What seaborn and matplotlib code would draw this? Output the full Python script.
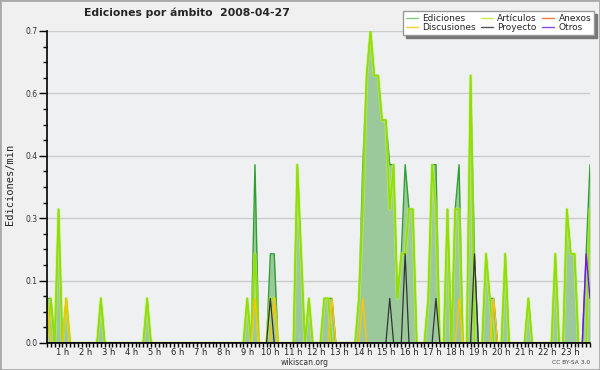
import numpy as np
import matplotlib
matplotlib.use('Agg')
import matplotlib.pyplot as plt
from matplotlib.lines import Line2D
from matplotlib.patches import Rectangle
from matplotlib.ticker import FixedLocator, MultipleLocator, FormatStrFormatter
import seaborn as sns

# franjas de 10 minutos, de las 00:20 a las 23:50
minutos = np.arange(20, 1440, 10)

# ediciones/min por franja
ediciones = [
    0.1, 0.1, 0, 0.3, 0, 0.1, 0, 0, 0, 0, 0, 0,
    0, 0, 0.1, 0, 0, 0, 0, 0, 0, 0, 0, 0,
    0, 0, 0.1, 0, 0, 0, 0, 0, 0, 0, 0, 0,
    0, 0, 0, 0, 0, 0, 0, 0, 0, 0, 0, 0,
    0, 0, 0, 0, 0.1, 0, 0.4, 0, 0, 0, 0.2, 0.2,
    0, 0, 0, 0, 0, 0.4, 0.2, 0, 0.1, 0, 0, 0,
    0.1, 0.1, 0.1, 0, 0, 0, 0, 0, 0, 0.1, 0.4, 0.6,
    0.7, 0.6, 0.6, 0.5, 0.5, 0.4, 0.4, 0.1, 0.2, 0.4, 0.3, 0.3,
    0, 0, 0, 0.1, 0.4, 0.4, 0, 0, 0.3, 0, 0.3, 0.4,
    0, 0, 0.6, 0.2, 0, 0, 0.2, 0.1, 0.1, 0, 0, 0.2,
    0, 0, 0, 0, 0, 0.1, 0, 0, 0, 0, 0, 0,
    0.2, 0, 0, 0.3, 0.2, 0.2, 0, 0, 0.2, 0.4,
]
articulos = [
    0, 0.1, 0, 0.3, 0, 0.1, 0, 0, 0, 0, 0, 0,
    0, 0, 0.1, 0, 0, 0, 0, 0, 0, 0, 0, 0,
    0, 0, 0.1, 0, 0, 0, 0, 0, 0, 0, 0, 0,
    0, 0, 0, 0, 0, 0, 0, 0, 0, 0, 0, 0,
    0, 0, 0, 0, 0.1, 0, 0.2, 0, 0, 0, 0.1, 0.1,
    0, 0, 0, 0, 0, 0.4, 0.2, 0, 0.1, 0, 0, 0,
    0.1, 0.1, 0, 0, 0, 0, 0, 0, 0, 0.1, 0.3, 0.6,
    0.7, 0.6, 0.6, 0.5, 0.5, 0.3, 0.4, 0.1, 0.2, 0.2, 0.3, 0.3,
    0, 0, 0, 0.1, 0.4, 0.3, 0, 0, 0.3, 0, 0.3, 0.3,
    0, 0, 0.6, 0, 0, 0, 0.2, 0.1, 0, 0, 0, 0.2,
    0, 0, 0, 0, 0, 0.1, 0, 0, 0, 0, 0, 0,
    0.2, 0, 0, 0.3, 0.2, 0.2, 0, 0, 0, 0.3,
]
discusiones = [
    0.1, 0, 0, 0, 0, 0.1, 0, 0, 0, 0, 0, 0,
    0, 0, 0, 0, 0, 0, 0, 0, 0, 0, 0, 0,
    0, 0, 0, 0, 0, 0, 0, 0, 0, 0, 0, 0,
    0, 0, 0, 0, 0, 0, 0, 0, 0, 0, 0, 0,
    0, 0, 0, 0, 0, 0, 0.1, 0, 0, 0, 0, 0.1,
    0, 0, 0, 0, 0, 0, 0, 0, 0, 0, 0, 0,
    0, 0, 0.1, 0, 0, 0, 0, 0, 0, 0, 0.1, 0,
    0, 0, 0, 0, 0, 0, 0, 0, 0, 0, 0, 0,
    0, 0, 0, 0, 0, 0, 0, 0, 0, 0, 0, 0.1,
    0, 0, 0, 0, 0, 0, 0, 0, 0.1, 0, 0, 0,
    0, 0, 0, 0, 0, 0, 0, 0, 0, 0, 0, 0,
    0, 0, 0, 0, 0, 0, 0, 0, 0, 0,
]
proyecto = [
    0, 0, 0, 0, 0, 0, 0, 0, 0, 0, 0, 0,
    0, 0, 0, 0, 0, 0, 0, 0, 0, 0, 0, 0,
    0, 0, 0, 0, 0, 0, 0, 0, 0, 0, 0, 0,
    0, 0, 0, 0, 0, 0, 0, 0, 0, 0, 0, 0,
    0, 0, 0, 0, 0, 0, 0, 0, 0, 0, 0.1, 0,
    0, 0, 0, 0, 0, 0, 0, 0, 0, 0, 0, 0,
    0, 0, 0, 0, 0, 0, 0, 0, 0, 0, 0, 0,
    0, 0, 0, 0, 0, 0.1, 0, 0, 0, 0.2, 0, 0,
    0, 0, 0, 0, 0, 0.1, 0, 0, 0, 0, 0, 0,
    0, 0, 0, 0.2, 0, 0, 0, 0, 0, 0, 0, 0,
    0, 0, 0, 0, 0, 0, 0, 0, 0, 0, 0, 0,
    0, 0, 0, 0, 0, 0, 0, 0, 0, 0,
]
otros = [0] * 140 + [0.2, 0.1]

horas = [f"{h} h" for h in range(1, 24)]
yticks = [0, 0.14, 0.28, 0.42, 0.56, 0.70]

sns.set_style("white")
plt.rcParams['font.family'] = ['DejaVu Sans']

fig = plt.figure(figsize=(6, 3.7), dpi=100, facecolor='#f0f0f0')
ax = fig.add_axes([47 / 600, 27 / 370, 543 / 600, 312 / 370])
ax.set_facecolor('#eef0f2')

x = minutos / 60
ax.fill_between(x, ediciones, 0, color='#9cc99c', lw=0, zorder=1)
sns.lineplot(x=x, y=ediciones, ax=ax, color='#2fa02f', linewidth=1.0, zorder=2)
# halo suave de la linea de articulos
sns.lineplot(x=x, y=articulos, ax=ax, color='#c6f060', linewidth=2.4, alpha=0.6, zorder=3)
sns.lineplot(x=x, y=articulos, ax=ax, color='#8fe000', linewidth=1.2, zorder=3)
sns.lineplot(x=x, y=discusiones, ax=ax, color='#ffc400', linewidth=1.0, zorder=4)
sns.lineplot(x=x, y=proyecto, ax=ax, color='#333333', linewidth=0.9, zorder=5)
sns.lineplot(x=x, y=otros, ax=ax, color='#7a10f0', linewidth=1.0, zorder=6)

ax.set_xlim(minutos[0] / 60, minutos[-1] / 60)
ax.set_ylim(0, 0.7)
ax.set_xlabel('')
ax.set_ylabel('')

ax.yaxis.set_major_locator(FixedLocator(yticks))
ax.yaxis.set_major_formatter(FormatStrFormatter('%.1f'))
ax.yaxis.set_minor_locator(MultipleLocator(0.035))
ax.xaxis.set_major_locator(FixedLocator(range(1, 24)))
ax.set_xticklabels(horas)
ax.xaxis.set_minor_locator(MultipleLocator(1 / 6))

ax.grid(axis='y', color='#cccccc', lw=1)
ax.grid(axis='x', visible=False)
ax.set_axisbelow(True)

for s in ['top', 'right']:
    ax.spines[s].set_visible(False)
for s in ['left', 'bottom']:
    ax.spines[s].set_color('black')
    ax.spines[s].set_linewidth(1.2)
    ax.spines[s].set_zorder(10)

ax.tick_params(axis='y', which='major', direction='out', length=6, width=1,
               color='black', labelsize=5.5, labelcolor='#333333', pad=1, left=True)
ax.tick_params(axis='y', which='minor', direction='out', length=3, width=1,
               color='black', left=True)
ax.tick_params(axis='x', which='both', direction='out', length=3, width=1,
               color='black', labelsize=6, labelcolor='#222222', pad=0.5, bottom=True)

fig.text(187 / 600, 1 - 13 / 370, 'Ediciones por ámbito  2008-04-27',
         ha='center', va='center', fontsize=7.8, fontweight='bold')
fig.text(10 / 600, 1 - 184 / 370, 'Ediciones/min', rotation=90, ha='center',
         va='center', fontsize=7.5, family='DejaVu Sans Mono')
fig.text(305 / 600, 1 - 362.5 / 370, 'wikiscan.org', ha='center', va='center',
         fontsize=5.5, color='#333333')
fig.text(590 / 600, 1 - 362.5 / 370, 'CC BY-SA 3.0', ha='right', va='center',
         fontsize=4.3, color='#444444')

handles = [
    Line2D([], [], color='#7fcf7f', lw=1),
    Line2D([], [], color='#ffcc33', lw=1),
    Line2D([], [], color='#c8ec4a', lw=1),
    Line2D([], [], color='#555555', lw=1),
    Line2D([], [], color='#ff7744', lw=1),
    Line2D([], [], color='#8844ee', lw=1),
]
labels = ['Ediciones', 'Discusiones', 'Artículos', 'Proyecto', 'Anexos', 'Otros']
leg = fig.legend(handles, labels, ncol=3, loc='upper right',
                 bbox_to_anchor=(594 / 600, 1 - 11 / 370), fontsize=6.5,
                 frameon=True, fancybox=False, shadow={'color': '#777777', 'alpha': 1},
                 handlelength=1.3, handletextpad=0.5, columnspacing=0.6,
                 labelspacing=0.05, borderpad=0.3, borderaxespad=0)
leg.get_frame().set_edgecolor('#999999')
leg.get_frame().set_linewidth(1)

fig.patches.append(Rectangle((0, 0), 1, 1, transform=fig.transFigure, fill=False,
                             edgecolor='#aaaaaa', lw=2))

fig.savefig('out.png', dpi=100, facecolor=fig.get_facecolor())
